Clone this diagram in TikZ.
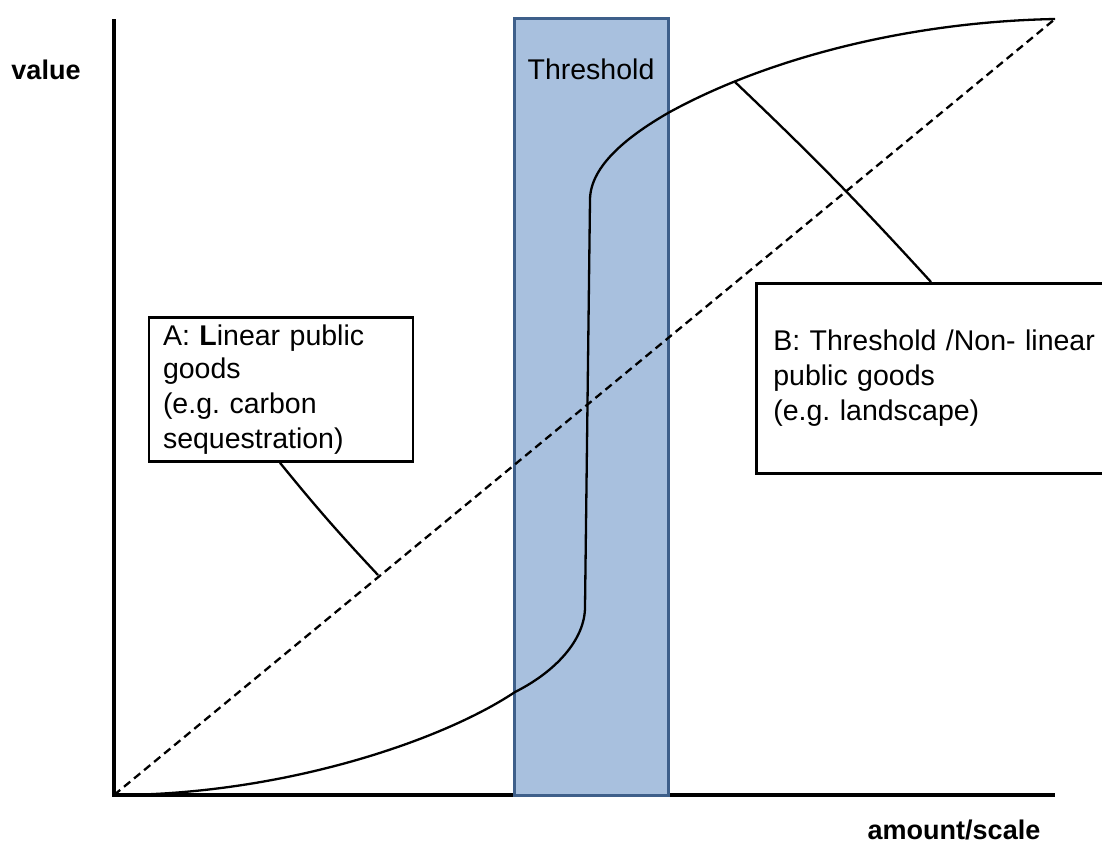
\documentclass[tikz,border=0pt]{standalone}
\usepackage{fontspec}
\setmainfont{Liberation Sans}
\usetikzlibrary{calc}
\definecolor{bandfill}{HTML}{A8C0DE}
\definecolor{bandedge}{HTML}{3E5F8A}
\frenchspacing
\tikzset{
  axis/.style={line width=3.4pt},
  curve/.style={line width=2.3pt, line join=round},
  diag/.style={line width=2.3pt, dash pattern=on 8pt off 5pt},
  leader/.style={line width=2.3pt},
  callout/.style={draw, line width=2.6pt, fill=white, align=left,
    font=\fontsize{28.5}{35}\selectfont, inner ysep=0pt},
  axlabel/.style={font=\fontsize{27}{32}\selectfont\bfseries, inner sep=0pt},
}
\begin{document}
\begin{tikzpicture}[x=1pt, y=-1pt]
\useasboundingbox (0,0) rectangle (1102,844);

% axes
\coordinate (O) at (114,795);
\coordinate (ytop) at (114,19);
\coordinate (xend) at (1055,795);
\draw[axis] (ytop) -- (O) -- (xend);
\node[axlabel] (ylab) at (46,70) {value};
\node[axlabel] (xlab) at (954,830) {amount/scale};

% threshold band
\node[draw=bandedge, fill=bandfill, line width=3pt, minimum width=154pt,
      minimum height=777pt, inner sep=0pt] (band) at (591,406.5) {};
\node[font=\fontsize{28.5}{35}\selectfont, inner sep=0pt] (bandlab) at (591,69) {Threshold};

% linear (dashed) relation
\coordinate (top) at (1055,19);
\draw[diag] (O) -- (top);

% threshold (non-linear) relation
\draw[curve] (O) .. controls (280,795) and (440,742) .. (515,692)
  .. controls (555,672) and (585,640) .. (585,607)
  -- (590,200)
  .. controls (590,165) and (630,135) .. (668,113)
  .. controls (760,62) and (900,22) .. (top);

% callouts
\node[callout, text width=236pt, inner xsep=14pt, minimum height=144pt] (boxA) at (281,389.5)
  {\raisebox{-2pt}{A: \textbf{L}inear public}\\goods\\(e.g. carbon\\sequestration)};
\node[callout, text width=323pt, inner xsep=17pt, minimum height=190pt, anchor=north west] (boxB) at (755,282)
  {B: Threshold /Non- linear\\public goods\\(e.g. landscape)};

\coordinate (onA) at (378,575);
\coordinate (onB) at (735,82);
\draw[leader] ($(boxA.south)+(-1,0)$) to[bend right=2] (onA);
\draw[leader] (onB) to[bend left=2] ($(boxB.north west)+(176,0)$);
\end{tikzpicture}
\end{document}
